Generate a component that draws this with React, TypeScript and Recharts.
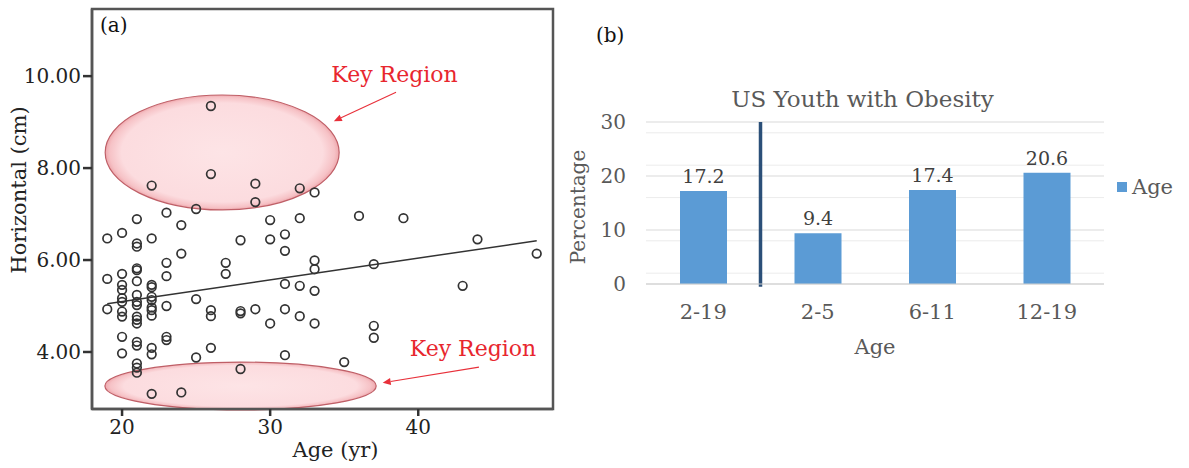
import React from 'react';
import {
  ScatterChart,
  Scatter,
  XAxis,
  YAxis,
  ReferenceLine,
  ReferenceArea,
  ReferenceDot,
  BarChart,
  Bar,
  CartesianGrid,
  LabelList,
  Legend,
} from 'recharts';

const SERIF = '"DejaVu Serif", serif';

// (a) scatter: age (yr) against horizontal (cm)
const ages = [
  26, 26, 22, 29, 29, 32, 33, 25, 23, 21, 24, 30, 32, 36, 39,
  19, 20, 21, 21, 22, 28, 30, 31, 31, 24, 23, 23, 21, 21, 20,
  19, 21, 20, 20, 22, 22, 27, 27, 33, 33, 31, 32, 33, 21, 20,
  20, 22, 22, 25, 19, 21, 21, 22, 22, 23, 20, 20, 21, 21, 21,
  22, 26, 26, 28, 28, 29, 30, 31, 32, 33, 20, 21, 21, 22, 23,
  23, 20, 22, 25, 26, 31, 35, 21, 21, 21, 28, 22, 24, 44, 48,
  37, 43, 37, 37,
];
const horizontal = [
  9.35, 7.87, 7.62, 7.66, 7.26, 7.56, 7.47, 7.11, 7.03, 6.89, 6.76, 6.87, 6.91, 6.96, 6.91,
  6.47, 6.59, 6.36, 6.29, 6.47, 6.43, 6.45, 6.56, 6.2, 6.14, 5.94, 5.65, 5.82, 5.78, 5.7,
  5.59, 5.54, 5.46, 5.35, 5.46, 5.41, 5.94, 5.7, 5.99, 5.8, 5.48, 5.44, 5.33, 5.24, 5.17,
  5.09, 5.2, 5.13, 5.15, 4.93, 5.09, 5.02, 4.97, 4.91, 5.0, 4.88, 4.77, 4.77, 4.7, 4.62,
  4.79, 4.91, 4.78, 4.89, 4.84, 4.93, 4.62, 4.93, 4.78, 4.62, 4.33, 4.22, 4.14, 4.09, 4.33,
  4.26, 3.97, 3.95, 3.88, 4.09, 3.93, 3.78, 3.75, 3.66, 3.55, 3.63, 3.09, 3.12, 6.45, 6.14,
  5.91, 5.44, 4.57, 4.31,
];
const ageTicks = [20, 30, 40];
const cmTicks = [4, 6, 8, 10];

// fit line end points
const trendAge = [19, 48];
const trendCm = [5.05, 6.42];

// "Key Region" ellipses: [age min, age max], [cm min, cm max]
const regionAge = [[18.86, 34.66], [18.84, 37.16]];
const regionCm = [[7.09, 9.59], [2.74, 3.78]];
const noteAge = [38.4, 43.7];
const noteCm = [10.04, 4.07];
const arrowFrom = [[38.5, 9.65], [44.1, 3.67]];
const arrowTo = [[34.3, 9.02], [37.6, 3.33]];

// (b) bars
const ageGroups = ['2-19', '2-5', '6-11', '12-19'];
const obesityPct = [17.2, 9.4, 17.4, 20.6];
const pctTicks = [0, 10, 20, 30];
const minorGrid = [2, 4, 6, 8, 12, 14, 16, 18, 22, 24, 26, 28];
// divider drawn at the start of the "2-5" band
const dividerGroup = '2-5';
const dividerY = [30, -0.5];

const points = ages.map((a, i) => ({ age: a, cm: horizontal[i] }));
const barData = ageGroups.map((g, i) => ({ group: g, pct: obesityPct[i] }));

const OpenCircle = (p: any) => (
  <circle cx={p.cx} cy={p.cy} r={4.3} fill="none" stroke="#333" strokeWidth={1.7} />
);

const ellipseShape = (id: string) => (p: any) => (
  <g>
    <defs>
      <radialGradient id={id} cx="50%" cy="50%" r="50%">
        <stop offset="0%" stopColor="#fde4e6" />
        <stop offset="86%" stopColor="#fcdcdf" />
        <stop offset="96%" stopColor="#f6c2c6" />
        <stop offset="100%" stopColor="#eea8ad" />
      </radialGradient>
    </defs>
    <ellipse
      cx={p.x + p.width / 2}
      cy={p.y + p.height / 2}
      rx={p.width / 2}
      ry={p.height / 2}
      fill={`url(#${id})`}
      stroke="#bf5f67"
      strokeWidth={1.2}
    />
  </g>
);

const ArrowShape = (p: any) => {
  const { x1, y1, x2, y2 } = p;
  const ang = Math.atan2(y2 - y1, x2 - x1);
  const L = 8;
  const W = 3.5;
  const bx = x2 - L * Math.cos(ang);
  const by = y2 - L * Math.sin(ang);
  const pts = `${x2},${y2} ${bx - W * Math.sin(ang)},${by + W * Math.cos(ang)} ${bx + W * Math.sin(ang)},${by - W * Math.cos(ang)}`;
  return (
    <g>
      <line x1={x1} y1={y1} x2={bx} y2={by} stroke="#e8303a" strokeWidth={1.1} />
      <polygon points={pts} fill="#e8303a" />
    </g>
  );
};

const KeyText = (p: any) => (
  <text x={p.cx} y={p.cy} textAnchor="middle" dominantBaseline="central" fontFamily={SERIF} fontSize={22} fill="#e8262e">
    Key Region
  </text>
);

const vbOf = (p: any) => p.viewBox || { x: 0, y: 0, width: 0, height: 0 };

const AgeYrLabel = (p: any) => {
  const vb = vbOf(p);
  return (
    <text x={vb.x + vb.width / 2 + 13} y={vb.y + 41} textAnchor="middle" dominantBaseline="central" fontFamily={SERIF} fontSize={21} fill="#222">
      Age (yr)
    </text>
  );
};

const HorizontalLabel = (p: any) => {
  const vb = vbOf(p);
  const x = vb.x + 19;
  const y = vb.y + vb.height / 2 - 19;
  return (
    <text x={x} y={y} transform={`rotate(-90, ${x}, ${y})`} textAnchor="middle" dominantBaseline="central" fontFamily={SERIF} fontSize={21} fill="#222">
      Horizontal (cm)
    </text>
  );
};

const AgeLabel = (p: any) => {
  const vb = vbOf(p);
  return (
    <text x={vb.x + vb.width / 2} y={vb.y + 63} textAnchor="middle" dominantBaseline="central" fontFamily={SERIF} fontSize={21} fill="#595959">
      Age
    </text>
  );
};

const PercentLabel = (p: any) => {
  const vb = vbOf(p);
  const x = vb.x + 18;
  const y = vb.y + vb.height / 2 + 4;
  return (
    <text x={x} y={y} transform={`rotate(-90, ${x}, ${y})`} textAnchor="middle" dominantBaseline="central" fontFamily={SERIF} fontSize={20} fill="#595959">
      Percentage
    </text>
  );
};

const LegendBox = () => (
  <div style={{ display: 'flex', alignItems: 'center', fontFamily: SERIF, fontSize: 21, color: '#595959' }}>
    <span style={{ width: 10, height: 10, background: '#5b9bd5', marginRight: 5 }} />
    Age
  </div>
);

export default function App() {
  const tickA = { fontFamily: SERIF, fontSize: 20, fill: '#222' };
  const tickB = { fontFamily: SERIF, fontSize: 21, fill: '#595959' };
  return (
    <div style={{ position: 'absolute', left: 0, top: 0, width: 1189, height: 468, background: '#fff', overflow: 'hidden' }}>
      <div style={{ position: 'absolute', left: 0, top: 0, width: 560, height: 468 }}>
        <ScatterChart width={560} height={468} margin={{ top: 9, right: 7, bottom: 0, left: 0 }}>
          <XAxis
            type="number"
            dataKey="age"
            domain={[17.97, 49.1]}
            ticks={ageTicks}
            allowDataOverflow
            height={59}
            tickSize={7}
            tickMargin={4}
            tick={tickA}
            tickLine={{ stroke: '#333', strokeWidth: 2.5 }}
            axisLine={{ stroke: '#555', strokeWidth: 2.5 }}
            label={AgeYrLabel}
          />
          <YAxis
            type="number"
            dataKey="cm"
            domain={[2.76, 11.46]}
            ticks={cmTicks}
            allowDataOverflow
            width={92}
            tickSize={9}
            tickMargin={2}
            tick={tickA}
            tickFormatter={(v: number) => v.toFixed(2)}
            tickLine={{ stroke: '#333', strokeWidth: 2.5 }}
            axisLine={{ stroke: '#555', strokeWidth: 2.5 }}
            label={HorizontalLabel}
          />
          <ReferenceArea x1={17.97} x2={49.1} y1={2.76} y2={11.46} fill="none" stroke="#555" strokeWidth={2.5} ifOverflow="visible" />
          {regionAge.map((r, i) => (
            <ReferenceArea
              key={`reg-${i}`}
              x1={r[0]}
              x2={r[1]}
              y1={regionCm[i][0]}
              y2={regionCm[i][1]}
              ifOverflow="visible"
              shape={ellipseShape(`pink${i}`)}
            />
          ))}
          <Scatter data={points} shape={OpenCircle} isAnimationActive={false} />
          <ReferenceLine
            segment={[{ x: trendAge[0], y: trendCm[0] }, { x: trendAge[1], y: trendCm[1] }]}
            stroke="#333"
            strokeWidth={1.5}
            ifOverflow="visible"
          />
          {arrowFrom.map((f, i) => (
            <ReferenceLine
              key={`arr-${i}`}
              segment={[{ x: f[0], y: f[1] }, { x: arrowTo[i][0], y: arrowTo[i][1] }]}
              ifOverflow="visible"
              shape={ArrowShape}
            />
          ))}
          {noteAge.map((a, i) => (
            <ReferenceDot key={`note-${i}`} x={a} y={noteCm[i]} r={0} ifOverflow="visible" shape={KeyText} />
          ))}
        </ScatterChart>
        <div style={{ position: 'absolute', left: 100, top: 15, fontFamily: SERIF, fontSize: 20, lineHeight: '20px', color: '#111' }}>
          (a)
        </div>
      </div>

      <div style={{ position: 'absolute', left: 560, top: 0, width: 629, height: 468 }}>
        <BarChart width={629} height={468} data={barData} margin={{ top: 122, right: 85, bottom: 104, left: 0 }}>
          <CartesianGrid vertical={false} horizontalValues={minorGrid} stroke="#ececec" />
          <CartesianGrid vertical={false} horizontalValues={pctTicks} stroke="#d9d9d9" />
          <XAxis
            dataKey="group"
            height={80}
            tickLine={false}
            axisLine={{ stroke: '#d0d0d0' }}
            tickMargin={14}
            tick={tickB}
            label={AgeLabel}
          />
          <YAxis
            domain={[0, 30]}
            ticks={pctTicks}
            width={86}
            tickLine={false}
            axisLine={false}
            tickMargin={14}
            tick={{ ...tickB, fontSize: 20 }}
            label={PercentLabel}
          />
          <Bar dataKey="pct" fill="#5b9bd5" barSize={47} isAnimationActive={false}>
            <LabelList dataKey="pct" position="top" offset={8} style={{ fontFamily: SERIF, fontSize: 19, fill: '#404040' }} />
          </Bar>
          <ReferenceLine
            segment={[{ x: dividerGroup, y: dividerY[0] }, { x: dividerGroup, y: dividerY[1] }]}
            position="start"
            stroke="#2b4f78"
            strokeWidth={3.5}
            ifOverflow="visible"
          />
          <Legend
            layout="horizontal"
            verticalAlign="middle"
            align="center"
            wrapperStyle={{ left: 557, top: 175, width: 'auto' }}
            content={LegendBox}
          />
        </BarChart>
        <div style={{ position: 'absolute', left: 0, top: 88, width: 605, textAlign: 'center', fontFamily: SERIF, fontSize: 23, lineHeight: '23px', color: '#595959' }}>
          US Youth with Obesity
        </div>
        <div style={{ position: 'absolute', left: 36, top: 25, fontFamily: SERIF, fontSize: 20, lineHeight: '20px', color: '#111' }}>
          (b)
        </div>
      </div>
    </div>
  );
}
